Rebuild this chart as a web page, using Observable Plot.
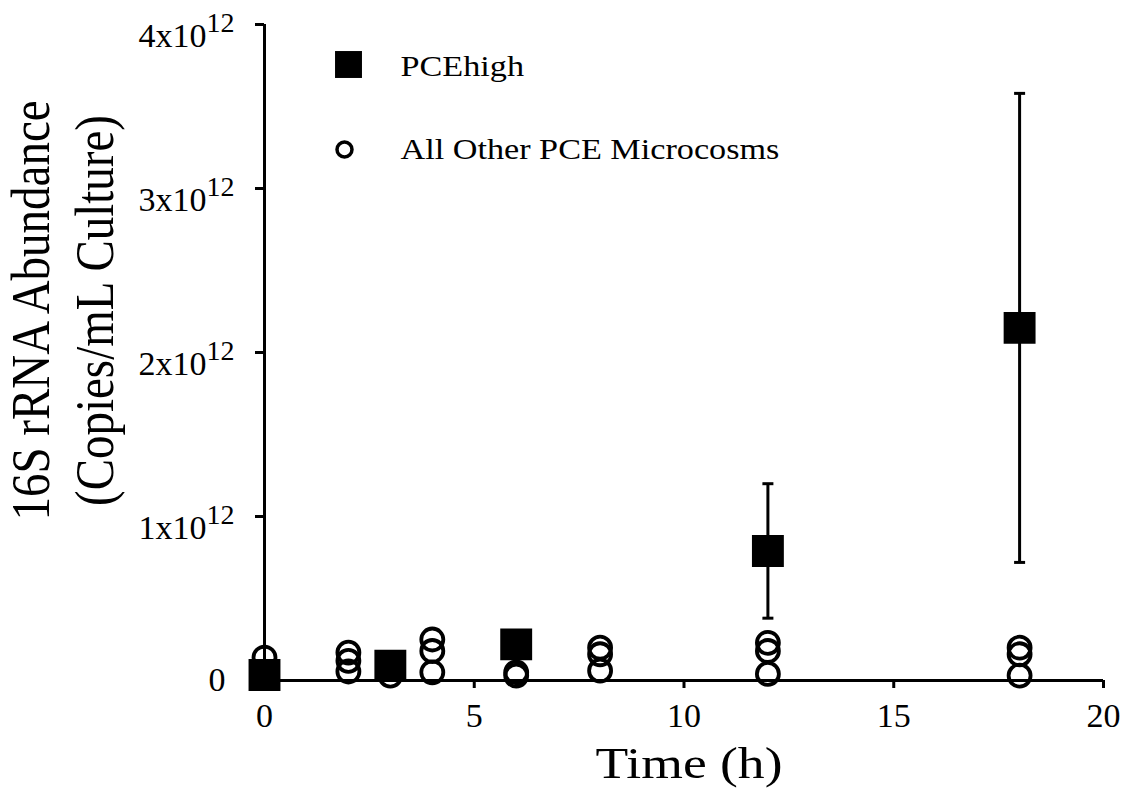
<!DOCTYPE html>
<html>
<head>
<meta charset="utf-8">
<script src="https://cdn.jsdelivr.net/npm/d3@7"></script>
<script src="https://cdn.jsdelivr.net/npm/@observablehq/plot@0.6"></script>
<style>
  html, body { margin: 0; padding: 0; background: #fff; }
</style>
</head>
<body>
<div id="chart"></div>
<script>
// PCEhigh microcosm: mean 16S rRNA copies/mL and standard deviation
const pceTime = [0, 3, 6, 12, 18];
const pceMean = [3.4e10, 9.0e10, 2.2e11, 7.9e11, 2.15e12];
const pceErr  = [0, 0, 0, 4.1e11, 1.43e12];

// All other PCE microcosms (individual cultures)
const otherTime  = [0, 0, 2, 2, 2, 3, 4, 4, 4, 6, 6, 8, 8, 8, 12, 12, 12, 18, 18, 18];
const otherValue = [1.4e11, 5e10, 1.7e11, 1.2e11, 5.5e10, 3e10, 2.5e11, 1.8e11, 5e10, 5e10, 3e10,
                    2.0e11, 1.6e11, 6e10, 2.3e11, 1.8e11, 4e10, 2.0e11, 1.6e11, 3e10];

const xTicks = [0, 5, 10, 15, 20];
const yTicks = [0, 1e12, 2e12, 3e12, 4e12];
const yTickLabels = ["0", "1x10^12", "2x10^12", "3x10^12", "4x10^12"];
const legendLabels = ["PCEhigh", "All Other PCE Microcosms"];
const xTitle = "Time (h)";
const yTitle = ["16S rRNA Abundance", "(Copies/mL Culture)"];

const pce = pceTime.map((t, i) => ({time: t, value: pceMean[i], lo: pceMean[i] - pceErr[i], hi: pceMean[i] + pceErr[i], err: pceErr[i]}));
const pceBars = pce.filter(d => d.err > 0);
const others = otherTime.map((t, i) => ({time: t, value: otherValue[i]}));

// horizontal cap used at both ends of an error bar
const capSymbol = {
  draw(context, size) {
    const w = Math.sqrt(size / Math.PI);
    context.moveTo(-w, 0);
    context.lineTo(w, 0);
  }
};

const chart = Plot.plot({
  width: 1135,
  height: 802,
  marginLeft: 264,
  marginRight: 32,
  marginTop: 24,
  marginBottom: 122,
  x: {domain: [0, 20]},
  y: {domain: [0, 4e12]},
  style: {fontFamily: "'Liberation Serif', 'Times New Roman', serif", background: "#fff", color: "#000"},
  marks: [
    Plot.axisX(xTicks, {tickSize: 8, tickPadding: 14, fontSize: 34, strokeWidth: 3, label: null, tickFormat: d => String(d)}),
    Plot.axisY(yTicks, {tickSize: 9, tickPadding: 21, fontSize: 34, strokeWidth: 3, label: null,
      tickFormat: d => yTickLabels[yTicks.indexOf(d)]}),
    Plot.dot(others, {x: "time", y: "value", r: 11, stroke: "#000", strokeWidth: 3.8, fill: "none"}),
    Plot.ruleX(pceBars, {x: "time", y1: "lo", y2: "hi", stroke: "#000", strokeWidth: 3}),
    Plot.dot(pceBars, {x: "time", y: "lo", symbol: capSymbol, r: 5.5, stroke: "#000", strokeWidth: 3}),
    Plot.dot(pceBars, {x: "time", y: "hi", symbol: capSymbol, r: 5.5, stroke: "#000", strokeWidth: 3}),
    Plot.dot(pce, {x: "time", y: "value", symbol: "square", r: 18, fill: "#000", stroke: "none"}),
    Plot.ruleX([0], {y1: 0, y2: 4e12, stroke: "#000", strokeWidth: 3}),
    Plot.ruleY([0], {x1: 0, x2: 20, stroke: "#000", strokeWidth: 3}),
    // legend
    Plot.dot([legendLabels[0]], {frameAnchor: "top-left", dx: 84, dy: 40, symbol: "square", r: 15.2, fill: "#000"}),
    Plot.dot([legendLabels[1]], {frameAnchor: "top-left", dx: 80, dy: 125, r: 7.5, stroke: "#000", strokeWidth: 3.5, fill: "none"}),
    Plot.text([legendLabels[0]], {text: d => d, frameAnchor: "top-left", dx: 136, dy: 41.4, textAnchor: "start", lineAnchor: "middle", fontSize: 30, className: "wide-legend"}),
    Plot.text([legendLabels[1]], {text: d => d, frameAnchor: "top-left", dx: 136, dy: 124.4, textAnchor: "start", lineAnchor: "middle", fontSize: 30, className: "wide-legend"}),
    // axis titles
    Plot.text([xTitle], {text: d => d, frameAnchor: "bottom", dx: 5, dy: 83, textAnchor: "middle", lineAnchor: "middle", fontSize: 45, className: "wide-xtitle"}),
    Plot.text([yTitle.join("\n")], {text: d => d, frameAnchor: "left", rotate: -90, dx: -204, dy: -42, textAnchor: "middle", lineAnchor: "middle", lineHeight: 1.2, fontSize: 47, className: "wide-ytitle"})
  ]
});

document.getElementById("chart").append(chart);

// superscript exponents in the y tick labels
const ns = "http://www.w3.org/2000/svg";
chart.querySelectorAll("text").forEach(t => {
  const s = t.textContent;
  if (s.includes("^")) {
    const [base, exp] = s.split("^");
    const dx = t.getAttribute("dx");
    t.textContent = "";
    const b = document.createElementNS(ns, "tspan");
    if (dx != null) b.setAttribute("dx", dx);
    b.setAttribute("dy", "12");
    b.textContent = base;
    const e = document.createElementNS(ns, "tspan");
    e.setAttribute("dy", "-15");
    e.setAttribute("font-size", "28");
    e.textContent = exp;
    t.append(b, e);
  } else if (s === "0" && t.closest("[aria-label='y-axis tick label']")) {
    const dx = parseFloat(t.getAttribute("dx") || "0");
    t.setAttribute("dx", dx - 9);
  }
});

// the serif lettering is set slightly wide: stretch titles and legend horizontally
function widen(selector, factor, anchor) {
  chart.querySelectorAll(`g.${selector} text`).forEach(t => {
    const g = document.createElementNS(ns, "g");
    t.parentNode.insertBefore(g, t);
    g.appendChild(t);
    const bb = g.getBBox();
    const ax = anchor === "start" ? bb.x : bb.x + bb.width / 2;
    g.setAttribute("transform", `translate(${ax},0) scale(${factor},1) translate(${-ax},0)`);
  });
}
widen("wide-legend", 1.14, "start");
widen("wide-xtitle", 1.19, "middle");
widen("wide-ytitle", 1.15, "middle");
</script>
</body>
</html>
